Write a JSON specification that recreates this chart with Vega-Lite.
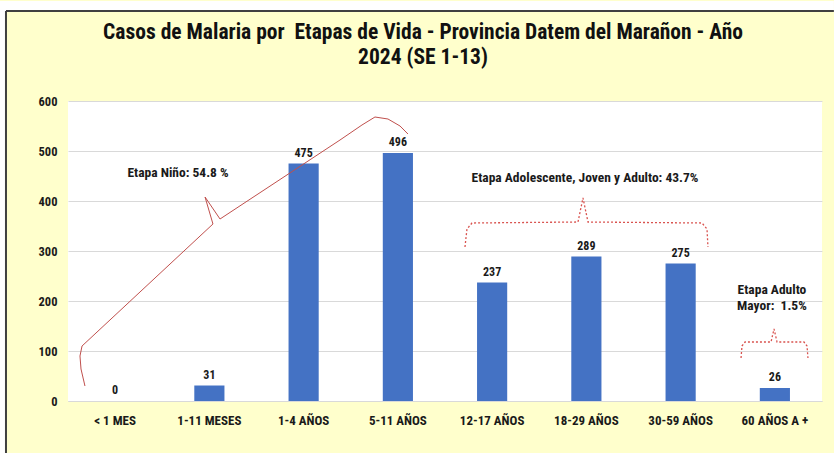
{
  "$schema": "https://vega.github.io/schema/vega-lite/v6.json",
  "width": 754,
  "height": 300,
  "autosize": {"type": "none"},
  "padding": {"left": 68, "top": 101, "right": 12, "bottom": 52},
  "background": "#FFFFCC",
  "config": {
    "view": {"fill": "white", "stroke": null},
    "font": "Roboto Condensed, DejaVu Sans Condensed, Arial Narrow, Roboto"
  },
  "title": {
    "text": ["Casos de Malaria por\u00a0 Etapas de Vida - Provincia Datem del Marañon - Año", "2024 (SE 1-13)"],
    "font": "Roboto Condensed, DejaVu Sans Condensed, Arial Narrow, Roboto",
    "fontSize": 21.5,
    "fontWeight": "bold",
    "lineHeight": 25,
    "color": "#111111",
    "anchor": "middle",
    "frame": "group",
    "dx": -22,
    "offset": -67
  },
  "datasets": {
    "casos": [
      {"etapa": "< 1 MES", "casos": 0},
      {"etapa": "1-11 MESES", "casos": 31},
      {"etapa": "1-4 AÑOS", "casos": 475},
      {"etapa": "5-11 AÑOS", "casos": 496},
      {"etapa": "12-17 AÑOS", "casos": 237},
      {"etapa": "18-29 AÑOS", "casos": 289},
      {"etapa": "30-59 AÑOS", "casos": 275},
      {"etapa": "60 AÑOS A +", "casos": 26}
    ],
    "franjas": [
      {"x1": -0.7215, "x2": 8.126, "y1": 780, "y2": 800},
      {"x1": -0.7215, "x2": -0.658, "y1": -104, "y2": 800}
    ],
    "bordes": [
      {"x1": -0.658, "x2": 8.126, "y1": 780, "y2": 780},
      {"x1": -0.658, "x2": -0.658, "y1": -104, "y2": 780}
    ],
    "llaves": [
      {"grupo": "nino", "orden": 1, "xq": 0.180, "yv": 30},
      {"grupo": "nino", "orden": 2, "xq": 0.138, "yv": 64},
      {"grupo": "nino", "orden": 3, "xq": 0.127, "yv": 90},
      {"grupo": "nino", "orden": 4, "xq": 0.149, "yv": 110},
      {"grupo": "nino", "orden": 5, "xq": 1.538, "yv": 354},
      {"grupo": "nino", "orden": 6, "xq": 1.454, "yv": 408},
      {"grupo": "nino", "orden": 7, "xq": 1.613, "yv": 364},
      {"grupo": "nino", "orden": 8, "xq": 2.886, "yv": 522},
      {"grupo": "nino", "orden": 9, "xq": 3.119, "yv": 552},
      {"grupo": "nino", "orden": 10, "xq": 3.257, "yv": 568},
      {"grupo": "nino", "orden": 11, "xq": 3.395, "yv": 564},
      {"grupo": "nino", "orden": 12, "xq": 3.523, "yv": 550},
      {"grupo": "nino", "orden": 13, "xq": 3.607, "yv": 534},
      {"grupo": "adolescente", "orden": 1, "xq": 4.212, "yv": 308},
      {"grupo": "adolescente", "orden": 2, "xq": 4.233, "yv": 344},
      {"grupo": "adolescente", "orden": 3, "xq": 4.287, "yv": 356},
      {"grupo": "adolescente", "orden": 4, "xq": 5.411, "yv": 358},
      {"grupo": "adolescente", "orden": 5, "xq": 5.464, "yv": 406},
      {"grupo": "adolescente", "orden": 6, "xq": 5.517, "yv": 358},
      {"grupo": "adolescente", "orden": 7, "xq": 6.727, "yv": 356},
      {"grupo": "adolescente", "orden": 8, "xq": 6.780, "yv": 344},
      {"grupo": "adolescente", "orden": 9, "xq": 6.790, "yv": 308},
      {"grupo": "mayor", "orden": 1, "xq": 7.141, "yv": 86},
      {"grupo": "mayor", "orden": 2, "xq": 7.151, "yv": 110},
      {"grupo": "mayor", "orden": 3, "xq": 7.183, "yv": 118},
      {"grupo": "mayor", "orden": 4, "xq": 7.459, "yv": 118},
      {"grupo": "mayor", "orden": 5, "xq": 7.491, "yv": 144},
      {"grupo": "mayor", "orden": 6, "xq": 7.523, "yv": 118},
      {"grupo": "mayor", "orden": 7, "xq": 7.809, "yv": 118},
      {"grupo": "mayor", "orden": 8, "xq": 7.841, "yv": 110},
      {"grupo": "mayor", "orden": 9, "xq": 7.851, "yv": 86}
    ],
    "notas": [
      {"texto": "Etapa Niño: 54.8 %", "xq": 1.167, "yv": 457},
      {"texto": "Etapa Adolescente, Joven y Adulto: 43.7%", "xq": 5.485, "yv": 447},
      {"texto": "Etapa Adulto", "xq": 7.469, "yv": 223},
      {"texto": "Mayor:\u00a0 1.5%", "xq": 7.469, "yv": 190}
    ]
  },
  "layer": [
    {
      "data": {"name": "franjas"},
      "mark": {"type": "rect", "fill": "white", "clip": false},
      "encoding": {
        "x": {"field": "x1", "type": "quantitative", "scale": {"domain": [0, 8], "nice": false, "zero": false}, "axis": null},
        "x2": {"field": "x2"},
        "y": {"field": "y1", "type": "quantitative", "scale": {"domain": [0, 600], "nice": false}},
        "y2": {"field": "y2"}
      }
    },
    {
      "data": {"name": "bordes"},
      "mark": {"type": "rule", "color": "#404040", "strokeWidth": 2, "clip": false},
      "encoding": {
        "x": {"field": "x1", "type": "quantitative", "scale": {"domain": [0, 8], "nice": false, "zero": false}, "axis": null},
        "x2": {"field": "x2"},
        "y": {"field": "y1", "type": "quantitative", "scale": {"domain": [0, 600], "nice": false}},
        "y2": {"field": "y2"}
      }
    },
    {
      "data": {"name": "casos"},
      "mark": {"type": "bar", "color": "#4472C4"},
      "encoding": {
        "x": {
          "field": "etapa", "type": "nominal", "sort": null,
          "scale": {"paddingInner": 0.68, "paddingOuter": 0.34},
          "axis": {
            "title": null, "labelAngle": 0,
            "labelFontWeight": "bold", "labelFontSize": 13, "labelColor": "#1a1a1a",
            "labelPadding": 13, "ticks": false, "domainColor": "#D9D9D9", "grid": false
          }
        },
        "y": {
          "field": "casos", "type": "quantitative",
          "scale": {"domain": [0, 600], "nice": false},
          "axis": {
            "title": null, "values": [0, 100, 200, 300, 400, 500, 600],
            "labelFontWeight": "bold",
            "labelFontSize": 12.5, "labelColor": "#1a1a1a", "labelPadding": 11,
            "ticks": false, "domain": false, "gridColor": "#D9D9D9"
          }
        }
      }
    },
    {
      "data": {"name": "casos"},
      "mark": {"type": "text", "dy": -7, "baseline": "alphabetic", "fontWeight": "bold", "fontSize": 12, "color": "#1a1a1a"},
      "encoding": {
        "x": {"field": "etapa", "type": "nominal", "sort": null, "scale": {"paddingInner": 0.68, "paddingOuter": 0.34}, "axis": null},
        "y": {"field": "casos", "type": "quantitative", "scale": {"domain": [0, 600], "nice": false}},
        "text": {"field": "casos", "type": "quantitative"}
      }
    },
    {
      "data": {"name": "llaves"},
      "transform": [{"filter": "datum.grupo === 'nino'"}],
      "mark": {"type": "line", "color": "#C0504D", "strokeWidth": 1, "clip": false},
      "encoding": {
        "x": {"field": "xq", "type": "quantitative", "scale": {"domain": [0, 8], "nice": false, "zero": false}, "axis": null},
        "y": {"field": "yv", "type": "quantitative", "scale": {"domain": [0, 600], "nice": false}},
        "detail": {"field": "grupo"},
        "order": {"field": "orden"}
      }
    },
    {
      "data": {"name": "llaves"},
      "transform": [{"filter": "datum.grupo !== 'nino'"}],
      "mark": {"type": "line", "color": "#D9534F", "strokeWidth": 1.3, "strokeDash": [2, 2], "clip": false},
      "encoding": {
        "x": {"field": "xq", "type": "quantitative", "scale": {"domain": [0, 8], "nice": false, "zero": false}, "axis": null},
        "y": {"field": "yv", "type": "quantitative", "scale": {"domain": [0, 600], "nice": false}},
        "detail": {"field": "grupo"},
        "order": {"field": "orden"}
      }
    },
    {
      "data": {"name": "notas"},
      "mark": {"type": "text", "baseline": "middle", "align": "center", "fontWeight": "bold", "fontSize": 13.5, "color": "#1a1a1a"},
      "encoding": {
        "x": {"field": "xq", "type": "quantitative", "scale": {"domain": [0, 8], "nice": false, "zero": false}, "axis": null},
        "y": {"field": "yv", "type": "quantitative", "scale": {"domain": [0, 600], "nice": false}},
        "text": {"field": "texto", "type": "nominal"}
      }
    }
  ],
  "resolve": {"scale": {"x": "independent"}, "axis": {"x": "independent"}}
}
